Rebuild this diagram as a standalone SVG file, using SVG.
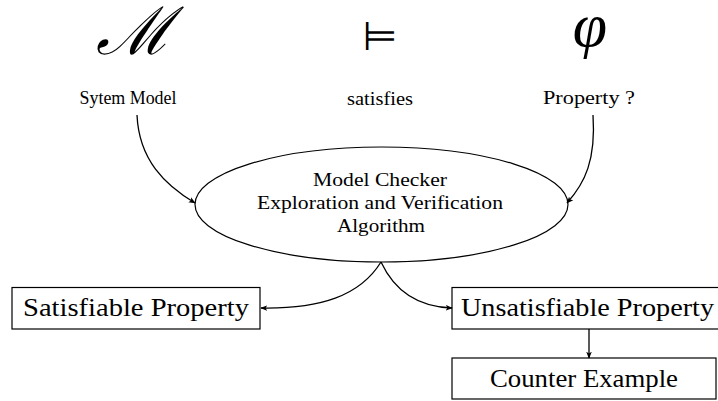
<svg xmlns="http://www.w3.org/2000/svg" width="718" height="401" viewBox="0 0 718 401">
<style>
.t{font-family:"Liberation Serif","DejaVu Serif",serif;fill:#000;text-anchor:middle}
.lbl{font-size:18px}
.big{font-size:25px}
.box{fill:#fff;stroke:#000;stroke-width:1.2}
.edge{fill:none;stroke:#000;stroke-width:1.3}
.sym{fill:#000;text-anchor:middle}
</style>
<defs>
<marker id="ah" viewBox="0 0 10 10" refX="9" refY="5" markerWidth="7" markerHeight="7" markerUnits="userSpaceOnUse" orient="auto">
<path d="M0,1 L10,5 L0,9 L2.5,5 Z" fill="#000"/>
</marker>
</defs>
<rect width="718" height="401" fill="#fff"/>
<g id="sym-M"><text class="sym" x="134" y="54" font-family="DejaVu Serif, serif" font-size="66" font-style="italic" textLength="76" lengthAdjust="spacingAndGlyphs">ℳ</text></g>
<g id="sym-models"><text class="sym" x="380" y="50" font-family="DejaVu Sans, sans-serif" font-size="40">⊨</text></g>
<g id="sym-phi"><text class="sym" x="590" y="46" font-family="Liberation Serif, serif" font-size="62" font-style="italic">φ</text></g>
<g id="system-model"><text class="t lbl" x="128" y="104" textLength="97" lengthAdjust="spacingAndGlyphs">Sytem Model</text></g>
<g id="satisfies"><text class="t lbl" x="380" y="105" textLength="66" lengthAdjust="spacingAndGlyphs">satisfies</text></g>
<g id="property"><text class="t lbl" x="589" y="104" textLength="92" lengthAdjust="spacingAndGlyphs">Property ?</text></g>
<g id="model-checker">
<ellipse cx="381.5" cy="204.5" rx="186.5" ry="57.5" fill="#fff" stroke="#000" stroke-width="1.2"/>
<text class="t lbl" x="380" y="186" textLength="134" lengthAdjust="spacingAndGlyphs">Model Checker</text>
<text class="t lbl" x="380" y="209" textLength="246" lengthAdjust="spacingAndGlyphs">Exploration and Verification</text>
<text class="t lbl" x="381" y="232" textLength="88" lengthAdjust="spacingAndGlyphs">Algorithm</text>
</g>
<g id="satisfiable">
<rect class="box" x="12" y="287.5" width="248" height="41.5"/>
<text class="t big" x="136" y="316" textLength="226" lengthAdjust="spacingAndGlyphs">Satisfiable Property</text>
</g>
<g id="unsatisfiable">
<rect class="box" x="452" y="287.5" width="271" height="41.5"/>
<text class="t big" x="587.5" y="316" textLength="253" lengthAdjust="spacingAndGlyphs">Unsatisfiable Property</text>
</g>
<g id="counter-example">
<rect class="box" x="452" y="358" width="264" height="41"/>
<text class="t big" x="584" y="387" textLength="188" lengthAdjust="spacingAndGlyphs">Counter Example</text>
</g>
<g id="connectors">
<path class="edge" d="M137,115 C139,160 165,185 195,203" marker-end="url(#ah)"/>
<path class="edge" d="M593,115 C596,160 585,183 567,203" marker-end="url(#ah)"/>
<path class="edge" d="M381,262 C360,296 320,309 261,308" marker-end="url(#ah)"/>
<path class="edge" d="M381,262 C395,292 420,307 452,308" marker-end="url(#ah)"/>
<path class="edge" d="M589,329 L589,358" marker-end="url(#ah)"/>
</g>
</svg>
